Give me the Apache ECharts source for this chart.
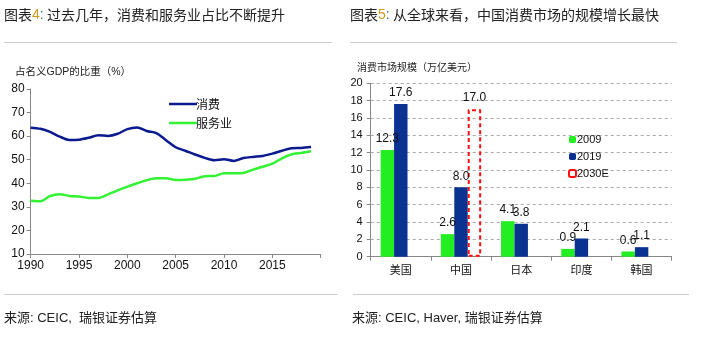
<!DOCTYPE html>
<html>
<head>
<meta charset="utf-8">
<script src="https://cdn.jsdelivr.net/npm/echarts@6/dist/echarts.min.js"></script>
<style>html,body{margin:0;padding:0;background:#fff;}#c{width:702px;height:339px;}</style>
</head>
<body>
<div id="c"></div>
<script>
// ---- Chart 4 data ----
var years = [1990,1991,1992,1993,1994,1995,1996,1997,1998,1999,2000,2001,2002,2003,2004,2005,2006,2007,2008,2009,2010,2011,2012,2013,2014,2015,2016,2017,2018,2019];
var consumption = [63.6,63.1,61.8,59.8,58.4,58.5,59.3,60.4,60.1,61.0,63.0,63.7,62.2,61.3,58.3,55.3,53.8,52.2,50.8,49.8,50.2,49.5,50.7,51.2,51.6,52.6,53.8,54.9,55.0,55.4];
var services = [32.6,32.4,34.6,35.4,34.6,34.4,33.8,33.8,35.3,37.0,38.6,40.0,41.3,42.1,42.1,41.4,41.5,41.9,43.0,43.1,44.3,44.3,44.4,45.8,47.0,48.3,50.6,52.3,52.9,53.6];
var xTicks = [1990,1995,2000,2005,2010,2015];

// ---- Chart 5 data ----
var countries = ['美国','中国','日本','印度','韩国'];
var v2009 = [12.3,2.6,4.1,0.9,0.6];
var v2019 = [17.6,8.0,3.8,2.1,1.1];
var v2030E = [null,17.0,null,null,null];

var FONT = '"Liberation Sans", Arial, "Noto Sans CJK SC", sans-serif';
var CJK = '"Noto Sans CJK SC", sans-serif';
var chart = echarts.init(document.getElementById('c'), null, {renderer:'canvas'});

function pairs(xs, ys){ return xs.map(function(x,i){ return [x, ys[i]]; }); }
function orNull(arr){ return arr.map(function(v){ return v==null ? '-' : v; }); }

var option = {
  backgroundColor: '#fff',
  animation: false,
  textStyle: {fontFamily: FONT},
  grid: [
    {left: 30.7, top: 89, width: 290, height: 165, containLabel: false},
    {left: 370.7, top: 83.3, width: 301, height: 173.4, containLabel: false}
  ],
  xAxis: [
    {type:'value', gridIndex:0, min:1990, max:2020, interval:5,
     axisLine:{show:true, lineStyle:{color:'#888', width:1}},
     axisTick:{show:true, inside:false, length:4, lineStyle:{color:'#888'}},
     splitLine:{show:false},
     axisLabel:{color:'#111', fontSize:12, fontFamily:FONT, margin:6,
       formatter:function(v){ return xTicks.indexOf(v) >= 0 ? String(v) : ''; }}},
    {type:'category', gridIndex:1, data:countries,
     axisLine:{show:true, lineStyle:{color:'#888', width:1}},
     axisTick:{show:true, inside:false, length:4, alignWithLabel:false, lineStyle:{color:'#888'}},
     axisLabel:{color:'#111', fontSize:11, fontFamily:CJK, margin:8}}
  ],
  yAxis: [
    {type:'value', gridIndex:0, min:10, max:80, interval:10,
     axisLine:{show:true, lineStyle:{color:'#888', width:1}},
     axisTick:{show:true, inside:false, length:4, lineStyle:{color:'#888'}},
     splitLine:{show:false},
     axisLabel:{color:'#111', fontSize:12, fontFamily:FONT, margin:6}},
    {type:'value', gridIndex:1, min:0, max:20, interval:2,
     axisLine:{show:true, lineStyle:{color:'#888', width:1}},
     axisTick:{show:true, inside:false, length:4, lineStyle:{color:'#888'}},
     splitLine:{show:true, lineStyle:{color:'#aaa', type:[3,3], width:1}},
     axisLabel:{color:'#111', fontSize:11, fontFamily:FONT, margin:8}}
  ],
  legend: [
    {orient:'vertical', left:164, top:93, itemWidth:28, itemHeight:12, itemGap:7,
     data:['消费','服务业'],
     textStyle:{fontSize:12, color:'#111', fontFamily:CJK, padding:[0,0,0,-6]},
     icon:'path://M0,5 L28,5 L28,7.5 L0,7.5 Z'},
    {orient:'vertical', left:563, top:129, itemWidth:7, itemHeight:7, itemGap:6,
     data:['2009','2019','2030E'],
     textStyle:{fontSize:11, color:'#111', fontFamily:FONT, padding:[0,0,0,-4]}}
  ],
  series: [
    {name:'消费', type:'line', xAxisIndex:0, yAxisIndex:0, data:pairs(years, consumption),
     smooth:0.3, symbol:'none', lineStyle:{color:'#0b1a8e', width:2.5}, itemStyle:{color:'#0b1a8e'}},
    {name:'服务业', type:'line', xAxisIndex:0, yAxisIndex:0, data:pairs(years, services),
     smooth:0.3, symbol:'none', lineStyle:{color:'#33f233', width:2.5}, itemStyle:{color:'#33f233'}},
    {name:'2009', type:'bar', xAxisIndex:1, yAxisIndex:1, data:v2009,
     barGap:'0%', barCategoryGap:'33%', itemStyle:{color:'#22ee22'},
     label:{show:true, position:'top', distance:5, color:'#111', fontSize:12, fontFamily:FONT,
       formatter:function(p){ return p.value.toFixed(1); }}},
    {name:'2019', type:'bar', xAxisIndex:1, yAxisIndex:1, data:v2019,
     barGap:'0%', barCategoryGap:'33%', itemStyle:{color:'#0a3391'},
     label:{show:true, position:'top', distance:5, color:'#111', fontSize:12, fontFamily:FONT,
       formatter:function(p){ return p.value.toFixed(1); }}},
    {name:'2030E', type:'bar', xAxisIndex:1, yAxisIndex:1, data:orNull(v2030E),
     barGap:'0%', barCategoryGap:'33%',
     itemStyle:{color:'rgba(255,255,255,0)', borderColor:'#ff1010', borderWidth:2, borderType:[4,3]},
     label:{show:true, position:'top', distance:6, color:'#111', fontSize:12, fontFamily:FONT,
       formatter:function(p){ return typeof p.value === 'number' ? p.value.toFixed(1) : ''; }}}
  ],
  graphic: [
    {type:'text', left:4, top:8, style:{text:'{a|图表}{n|4}{c|:} {a|过去几年，消费和服务业占比不断提升}',
      rich:{a:{fontSize:14, fill:'#222', fontFamily:CJK},
            n:{fontSize:14, fill:'#d09a1a', fontFamily:FONT},
            c:{fontSize:14, fill:'#3a6fb0', fontFamily:FONT}}}},
    {type:'text', left:350, top:8, style:{text:'{a|图表}{n|5}{c|:} {a|从全球来看，中国消费市场的规模增长最快}',
      rich:{a:{fontSize:14, fill:'#222', fontFamily:CJK},
            n:{fontSize:14, fill:'#d09a1a', fontFamily:FONT},
            c:{fontSize:14, fill:'#3a6fb0', fontFamily:FONT}}}},
    {type:'line', shape:{x1:4, y1:42.5, x2:332, y2:42.5}, style:{stroke:'#cfcfcf', lineWidth:1}},
    {type:'line', shape:{x1:350, y1:42.5, x2:677, y2:42.5}, style:{stroke:'#cfcfcf', lineWidth:1}},
    {type:'line', shape:{x1:4, y1:294.5, x2:338, y2:294.5}, style:{stroke:'#cfcfcf', lineWidth:1}},
    {type:'line', shape:{x1:353, y1:294.5, x2:689, y2:294.5}, style:{stroke:'#cfcfcf', lineWidth:1}},
    {type:'text', left:15, top:67, style:{text:'占名义GDP的比重（%）', fontSize:10.5, fill:'#222', fontFamily:FONT}},
    {type:'text', left:357, top:62, style:{text:'消费市场规模（万亿美元）', fontSize:10, fill:'#222', fontFamily:CJK}},
    {type:'text', left:4, top:312, style:{text:'来源: CEIC,  瑞银证券估算', fontSize:13, fill:'#222', fontFamily:FONT}},
    {type:'text', left:352, top:312, style:{text:'来源: CEIC, Haver, 瑞银证券估算', fontSize:13, fill:'#222', fontFamily:FONT}}
  ]
};
chart.setOption(option);
</script>
</body>
</html>
